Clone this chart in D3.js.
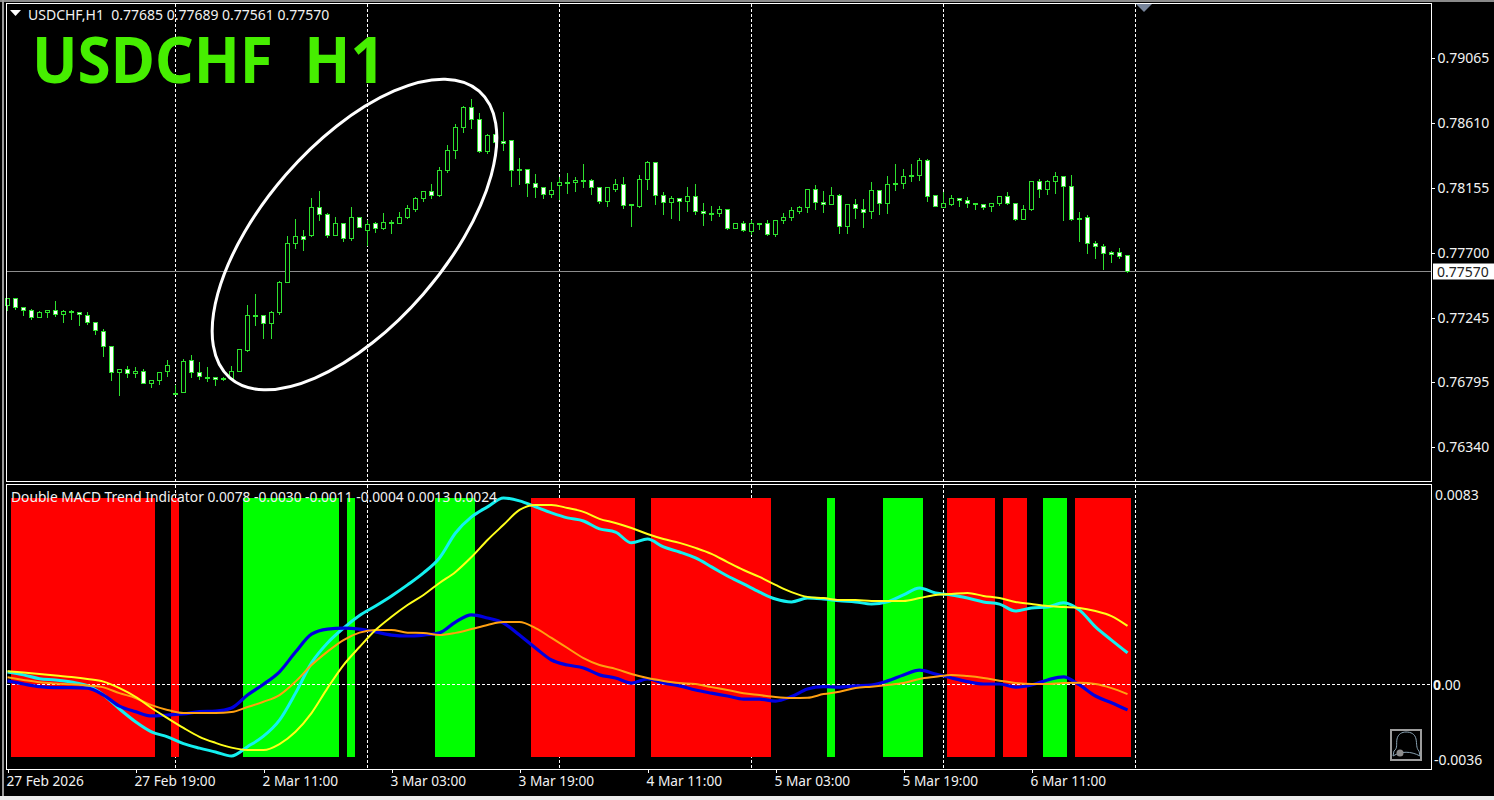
<!DOCTYPE html>
<html>
<head>
<meta charset="utf-8">
<title>USDCHF H1</title>
<script src="https://cdn.jsdelivr.net/npm/d3@7"></script>
<style>
  html, body { margin: 0; padding: 0; background: #000; overflow: hidden; }
  svg { display: block; }
  text { font-family: "Noto Sans", sans-serif; font-size: 14px; fill: #f2f2f2; white-space: pre; }
  .axis path { display: none; }
  .axis line { stroke: #fff; shape-rendering: crispEdges; }
  .axis text { font-family: "Noto Sans", sans-serif; font-size: 14px; fill: #f2f2f2; }
</style>
</head>
<body>
<svg id="chart" width="1494" height="800"></svg>
<script>
/* ---------- candles, one per H1 bar ---------- */
const opens = [
  0.77331,0.77383,0.77320,0.77299,0.77247,0.77282,0.77299,0.77268,0.77289,0.77285,
  0.77264,0.77215,0.77154,0.77047,0.76865,0.76886,0.76855,0.76872,0.76788,0.76809,
  0.76872,0.76720,0.76722,0.76949,0.76865,0.76832,0.76827,0.76820,0.76820,0.76872,
  0.77021,0.77261,0.77264,0.77208,0.77282,0.77495,0.77765,0.77817,0.77821,0.78020,
  0.77971,0.77821,0.77908,0.77800,0.77950,0.77859,0.77908,0.77873,0.77912,0.77908,
  0.77950,0.78006,0.78083,0.78132,0.78101,0.78276,0.78419,0.78580,0.78720,0.78636,
  0.78409,0.78531,0.78479,0.78486,0.78281,0.78286,0.78188,0.78160,0.78108,0.78171,
  0.78195,0.78192,0.78209,0.78209,0.78160,0.78059,0.78148,0.78181,0.78036,0.78022,
  0.78213,0.78335,0.78104,0.78052,0.78083,0.78059,0.78097,0.77992,0.77978,0.77975,
  0.78006,0.77870,0.77908,0.77849,0.77908,0.77908,0.77828,0.77924,0.77947,0.77992,
  0.78017,0.78146,0.78055,0.78038,0.78104,0.77884,0.78041,0.78006,0.77989,0.78139,
  0.78045,0.78185,0.78185,0.78241,0.78241,0.78349,0.78104,0.78017,0.78043,0.78083,
  0.78069,0.78045,0.78041,0.78022,0.78045,0.78097,0.78048,0.77933,0.78003,0.78204,
  0.78143,0.78197,0.78237,0.78167,0.77945,0.77950,0.77768,0.77747,0.77705,0.77705,
  0.77685];
const highs = [
  0.77383,0.77383,0.77329,0.77313,0.77301,0.77308,0.77371,0.77308,0.77308,0.77285,
  0.77292,0.77215,0.77175,0.77047,0.76893,0.76916,0.76907,0.76893,0.76809,0.76872,
  0.76956,0.76781,0.76963,0.76991,0.76942,0.76907,0.76827,0.76834,0.76914,0.77033,
  0.77343,0.77418,0.77273,0.77301,0.77511,0.77826,0.77943,0.77861,0.78085,0.78134,
  0.77985,0.77954,0.77912,0.78022,0.77954,0.77936,0.77919,0.77980,0.77936,0.77992,
  0.78043,0.78097,0.78132,0.78183,0.78309,0.78461,0.78608,0.78736,0.78783,0.78685,
  0.78538,0.78538,0.78694,0.78491,0.78372,0.78286,0.78258,0.78164,0.78197,0.78234,
  0.78267,0.78232,0.78330,0.78223,0.78169,0.78160,0.78223,0.78237,0.78043,0.78251,
  0.78349,0.78342,0.78132,0.78104,0.78083,0.78169,0.78188,0.78055,0.78034,0.78034,
  0.78006,0.77915,0.77929,0.77936,0.77915,0.77936,0.77929,0.77985,0.78027,0.78034,
  0.78153,0.78181,0.78134,0.78169,0.78118,0.78041,0.78078,0.78078,0.78204,0.78139,
  0.78244,0.78330,0.78288,0.78330,0.78372,0.78365,0.78111,0.78132,0.78113,0.78092,
  0.78099,0.78057,0.78041,0.78057,0.78104,0.78127,0.78048,0.78036,0.78211,0.78225,
  0.78216,0.78274,0.78237,0.78246,0.77994,0.77966,0.77791,0.77763,0.77714,0.77742,
  0.77689];
const lows = [
  0.77296,0.77308,0.77266,0.77231,0.77247,0.77247,0.77254,0.77212,0.77238,0.77191,
  0.77198,0.77133,0.76979,0.76811,0.76701,0.76827,0.76830,0.76788,0.76757,0.76778,
  0.76834,0.76711,0.76722,0.76827,0.76816,0.76802,0.76771,0.76806,0.76820,0.76872,
  0.77009,0.77196,0.77100,0.77100,0.77268,0.77495,0.77730,0.77721,0.77814,0.77931,
  0.77810,0.77821,0.77779,0.77786,0.77880,0.77751,0.77842,0.77866,0.77835,0.77908,
  0.77943,0.77992,0.78059,0.78078,0.78099,0.78262,0.78358,0.78542,0.78573,0.78405,
  0.78398,0.78468,0.78421,0.78164,0.78176,0.78099,0.78085,0.78078,0.78092,0.78071,
  0.78120,0.78127,0.78162,0.78113,0.78045,0.78022,0.78127,0.78010,0.77889,0.78015,
  0.78148,0.78036,0.77966,0.77945,0.77931,0.77992,0.77966,0.77896,0.77931,0.77959,
  0.77861,0.77870,0.77854,0.77831,0.77861,0.77826,0.77812,0.77908,0.77931,0.77978,
  0.77980,0.78008,0.77980,0.78038,0.77840,0.77840,0.77945,0.77882,0.77945,0.77966,
  0.77973,0.78134,0.78155,0.78197,0.78211,0.78064,0.78024,0.78017,0.78029,0.78022,
  0.78015,0.78008,0.78008,0.77994,0.78029,0.78036,0.77931,0.77933,0.78001,0.78092,
  0.78113,0.78120,0.77931,0.77931,0.77784,0.77700,0.77665,0.77588,0.77637,0.77658,
  0.77561];
const closes = [
  0.77383,0.77318,0.77296,0.77247,0.77285,0.77299,0.77268,0.77292,0.77289,0.77271,
  0.77212,0.77159,0.77047,0.76865,0.76886,0.76855,0.76872,0.76788,0.76809,0.76865,
  0.76914,0.76720,0.76942,0.76865,0.76834,0.76832,0.76816,0.76820,0.76872,0.77026,
  0.77264,0.77261,0.77208,0.77285,0.77495,0.77768,0.77817,0.77796,0.78020,0.77971,
  0.77821,0.77908,0.77803,0.77950,0.77880,0.77901,0.77873,0.77915,0.77912,0.77950,
  0.78013,0.78083,0.78132,0.78104,0.78279,0.78419,0.78580,0.78720,0.78636,0.78409,
  0.78524,0.78475,0.78468,0.78279,0.78281,0.78185,0.78157,0.78111,0.78134,0.78195,
  0.78195,0.78211,0.78209,0.78157,0.78059,0.78160,0.78181,0.78031,0.78036,0.78216,
  0.78335,0.78101,0.78052,0.78083,0.78059,0.78097,0.77989,0.77975,0.77978,0.78008,
  0.77870,0.77908,0.77856,0.77908,0.77908,0.77828,0.77929,0.77950,0.77999,0.78020,
  0.78146,0.78055,0.78041,0.78104,0.77884,0.78041,0.78010,0.77982,0.78139,0.78045,
  0.78181,0.78185,0.78237,0.78241,0.78349,0.78094,0.78024,0.78048,0.78083,0.78066,
  0.78048,0.78045,0.78017,0.78048,0.78097,0.78045,0.77933,0.78006,0.78204,0.78143,
  0.78204,0.78237,0.78164,0.77938,0.77945,0.77765,0.77744,0.77695,0.77688,0.77679,
  0.77570];

const lastPrice = 0.77570;
const priceTicks = [0.79065, 0.78610, 0.78155, 0.77700, 0.77245, 0.76795, 0.76340];

/* ---------- time axis: labels every 16 bars, day grid every 24 ---------- */
const timeTickBars = [0, 16, 32, 48, 64, 80, 96, 112, 128];
const timeTickLabels = ["27 Feb 2026", "27 Feb 19:00", "2 Mar 11:00", "3 Mar 03:00", "3 Mar 19:00",
                        "4 Mar 11:00", "5 Mar 03:00", "5 Mar 19:00", "6 Mar 11:00"];
const gridBars = [21, 45, 69, 93, 117, 141];

/* ---------- Double MACD panel, lines read every second bar ---------- */
const lineBars = d3.range(0, 141, 2);
const slowMacd = [
  0.00050,0.00038,0.00022,0.00017,0.00008,-0.00007,-0.00046,-0.00104,-0.00157,-0.00199,
  -0.00220,-0.00248,-0.00267,-0.00283,-0.00300,-0.00261,-0.00217,-0.00150,-0.00038,0.00088,
  0.00171,0.00233,0.00285,0.00325,0.00367,0.00413,0.00463,0.00525,0.00629,0.00696,
  0.00738,0.00775,0.00763,0.00738,0.00713,0.00692,0.00679,0.00646,0.00633,0.00588,
  0.00604,0.00571,0.00550,0.00525,0.00488,0.00450,0.00417,0.00383,0.00354,0.00342,
  0.00358,0.00354,0.00347,0.00342,0.00333,0.00342,0.00371,0.00400,0.00379,0.00371,
  0.00358,0.00342,0.00333,0.00304,0.00317,0.00321,0.00338,0.00308,0.00238,0.00183,
  0.00130];
const slowSignal = [
  0.00053,0.00048,0.00042,0.00035,0.00029,0.00021,0.00010,-0.00017,-0.00053,-0.00100,
  -0.00142,-0.00183,-0.00220,-0.00245,-0.00265,-0.00275,-0.00275,-0.00250,-0.00199,-0.00121,
  -0.00017,0.00079,0.00154,0.00225,0.00280,0.00329,0.00371,0.00421,0.00467,0.00529,
  0.00600,0.00663,0.00725,0.00746,0.00746,0.00733,0.00717,0.00688,0.00671,0.00650,
  0.00625,0.00604,0.00588,0.00567,0.00542,0.00508,0.00475,0.00446,0.00413,0.00383,
  0.00363,0.00358,0.00350,0.00350,0.00346,0.00346,0.00346,0.00358,0.00371,0.00375,
  0.00379,0.00367,0.00358,0.00342,0.00333,0.00325,0.00321,0.00317,0.00304,0.00283,
  0.00242];
const fastMacd = [
  0.00013,0.00000,-0.00011,-0.00015,-0.00015,-0.00017,-0.00046,-0.00092,-0.00115,-0.00133,
  -0.00129,-0.00125,-0.00115,-0.00113,-0.00100,-0.00046,-0.00001,0.00051,0.00133,0.00208,
  0.00229,0.00233,0.00229,0.00217,0.00204,0.00200,0.00204,0.00213,0.00258,0.00288,
  0.00275,0.00254,0.00204,0.00150,0.00100,0.00079,0.00067,0.00038,0.00025,0.00004,
  0.00021,0.00004,-0.00008,-0.00025,-0.00038,-0.00050,-0.00063,-0.00063,-0.00071,-0.00052,
  -0.00021,-0.00011,-0.00013,-0.00008,-0.00004,0.00013,0.00038,0.00058,0.00042,0.00025,
  0.00010,0.00000,0.00000,-0.00013,-0.00004,0.00017,0.00030,-0.00004,-0.00050,-0.00078,
  -0.00108];
const fastSignal = [
  0.00028,0.00017,0.00007,0.00002,-0.00001,-0.00006,-0.00014,-0.00038,-0.00058,-0.00088,
  -0.00108,-0.00121,-0.00121,-0.00121,-0.00117,-0.00096,-0.00074,-0.00046,0.00010,0.00079,
  0.00135,0.00183,0.00214,0.00225,0.00225,0.00214,0.00213,0.00204,0.00213,0.00229,
  0.00246,0.00258,0.00258,0.00233,0.00192,0.00150,0.00108,0.00079,0.00063,0.00042,
  0.00025,0.00013,0.00004,0.00000,-0.00013,-0.00025,-0.00038,-0.00046,-0.00054,-0.00058,
  -0.00057,-0.00042,-0.00032,-0.00017,-0.00011,-0.00004,0.00004,0.00021,0.00030,0.00038,
  0.00033,0.00025,0.00014,0.00004,0.00000,0.00000,0.00004,0.00005,0.00000,-0.00017,
  -0.00042];

// trend blocks: first bar, last bar, side
const trendStart = [1, 21, 30, 43, 54, 66, 81, 103, 110, 118, 125, 130, 134];
const trendEnd   = [18, 21, 41, 43, 58, 78, 95, 103, 114, 123, 127, 132, 140];
const trendSide  = ["dn", "dn", "up", "up", "up", "dn", "dn", "up", "up", "dn", "dn", "up", "dn"];
const trendTop = 0.00775, trendBottom = -0.00305;

const legendTop = "USDCHF,H1  0.77685 0.77689 0.77561 0.77570";
const legendMacd = "Double MACD Trend Indicator 0.0078 -0.0030 -0.0011 -0.0004 0.0013 0.0024";

/* ---------- layout + scales ---------- */
const svg = d3.select("#chart");
const plotL = 6.5, plotR = 1431.5;
const mainTop = 3.5, mainBot = 481.5, subTop = 484.5, subBot = 769.5;

const x = d3.scaleLinear().domain([0, 140]).range([7.5, 1127.5]);
const halfBar = (x(1) - x(0)) / 2;
const yPrice = d3.scaleLinear().domain([0.77700, 0.79065]).range([253, 58]);
const yMacd = d3.scaleLinear().domain([-0.00354, 0.00829]).range([769, 485]);
const snap = v => Math.round(v - 0.5) + 0.5;

// window edges around the chart
svg.append("rect").attr("x", 0).attr("y", 0).attr("width", 1494).attr("height", 2).attr("fill", "#8a8a8a");
svg.append("rect").attr("x", 2).attr("y", 0).attr("width", 2).attr("height", 797).attr("fill", "#9a9a9a");
svg.append("rect").attr("x", 0).attr("y", 796).attr("width", 1494).attr("height", 4).attr("fill", "#ececec");

/* ---------- grid sits under everything ---------- */
const grid = svg.append("g").attr("stroke", "#fff").attr("stroke-dasharray", "3,2").attr("shape-rendering", "crispEdges");
grid.selectAll(".g1").data(gridBars).join("line")
  .attr("x1", d => x(d)).attr("x2", d => x(d)).attr("y1", mainTop).attr("y2", mainBot);
grid.selectAll(".g2").data(gridBars).join("line")
  .attr("x1", d => x(d)).attr("x2", d => x(d)).attr("y1", subTop).attr("y2", subBot);

/* ---------- price panel ---------- */
svg.append("line").attr("x1", plotL).attr("x2", plotR)
  .attr("y1", snap(yPrice(lastPrice))).attr("y2", snap(yPrice(lastPrice)))
  .attr("stroke", "#8c8c8c").attr("shape-rendering", "crispEdges");

const candles = svg.append("g").attr("shape-rendering", "crispEdges");
const bars = d3.range(opens.length);
candles.selectAll(".wick").data(bars).join("line").attr("class", "wick")
  .attr("x1", i => x(i)).attr("x2", i => x(i))
  .attr("y1", i => snap(yPrice(highs[i]))).attr("y2", i => snap(yPrice(lows[i])))
  .attr("stroke", "#2ee02e");
candles.selectAll(".body").data(bars.filter(i => opens[i] !== closes[i])).join("rect").attr("class", "body")
  .attr("x", i => x(i) - 2).attr("width", 4)
  .attr("y", i => snap(yPrice(Math.max(opens[i], closes[i]))))
  .attr("height", i => Math.max(1, snap(yPrice(Math.min(opens[i], closes[i]))) - snap(yPrice(Math.max(opens[i], closes[i])))))
  .attr("fill", i => closes[i] > opens[i] ? "#000" : "#fff")
  .attr("stroke", "#2ee02e");
candles.selectAll(".doji").data(bars.filter(i => opens[i] === closes[i])).join("rect").attr("class", "doji")
  .attr("x", i => x(i) - 2.5).attr("width", 5)
  .attr("y", i => snap(yPrice(opens[i])) - 1).attr("height", 2)
  .attr("fill", "#2fe62f");

/* ---------- MACD panel ---------- */
svg.append("g").selectAll("rect").data(trendStart).join("rect")
  .attr("x", d => Math.floor(x(d) - halfBar))
  .attr("width", (d, k) => x(trendEnd[k]) - x(d) + 2 * halfBar)
  .attr("y", yMacd(trendTop)).attr("height", yMacd(trendBottom) - yMacd(trendTop))
  .attr("fill", (d, k) => trendSide[k] === "up" ? "#00ff00" : "#ff0000")
  .attr("shape-rendering", "crispEdges");

svg.append("line").attr("x1", plotL).attr("x2", plotR)
  .attr("y1", snap(yMacd(0))).attr("y2", snap(yMacd(0)))
  .attr("stroke", "#fff").attr("stroke-dasharray", "3,2").attr("shape-rendering", "crispEdges");

const macdLine = d3.line().x((d, k) => x(lineBars[k])).y(d => yMacd(d)).curve(d3.curveMonotoneX);
[[slowMacd, "#14f0f0", 3], [fastMacd, "#0000e0", 3.2], [fastSignal, "#ffa010", 2], [slowSignal, "#ffff19", 2]]
  .forEach(([values, color, width]) => {
    svg.append("path").attr("d", macdLine(values)).attr("fill", "none")
      .attr("stroke", color).attr("stroke-width", width).attr("stroke-linejoin", "round");
  });

/* ---------- frames + axes ---------- */
const frame = svg.append("g").attr("stroke", "#fff").attr("fill", "none").attr("shape-rendering", "crispEdges");
frame.append("rect").attr("x", plotL).attr("y", mainTop).attr("width", plotR - plotL).attr("height", mainBot - mainTop);
frame.append("rect").attr("x", plotL).attr("y", subTop).attr("width", plotR - plotL).attr("height", subBot - subTop);

const priceAxis = svg.append("g").attr("class", "axis")
  .attr("transform", `translate(${plotR},0)`)
  .call(d3.axisRight(yPrice).tickValues(priceTicks).tickSize(3).tickPadding(3).tickFormat(d3.format(".5f")));

const timeAxis = svg.append("g").attr("class", "axis")
  .attr("transform", `translate(0,${subBot})`)
  .call(d3.axisBottom(x).tickValues(timeTickBars).tickSize(3).tickPadding(4)
    .tickFormat((d, k) => timeTickLabels[k]));
timeAxis.selectAll("text").attr("text-anchor", "start").attr("dx", -1.5).style("font-size", "13.7px");

// current price flag
svg.append("rect").attr("x", 1433).attr("y", 263.5).attr("width", 61).attr("height", 16).attr("fill", "#fff");
svg.append("text").attr("x", 1437).attr("y", 272).attr("dy", "0.33em").style("fill", "#222").text(d3.format(".5f")(lastPrice));

// MACD scale labels sit just inside the panel, not on their values
svg.append("text").attr("x", 1435).attr("y", 495).attr("dy", "0.33em").text("0.0083");
svg.append("text").attr("x", 1434).attr("y", 760).attr("dy", "0.33em").text("-0.0036");
const zeroLabel = svg.append("text").attr("x", 1433).attr("y", 685).attr("dy", "0.33em");
zeroLabel.append("tspan").style("font-weight", "700").text("0");
zeroLabel.append("tspan").text(".00");

/* ---------- annotations ---------- */
svg.append("path").attr("d", "M10,10H21L15.5,16Z").attr("fill", "#fff");
svg.append("text").attr("x", 28).attr("y", 15).attr("dy", "0.33em").text(legendTop);
svg.append("text").attr("x", 11).attr("y", 497).attr("dy", "0.33em")
  .attr("textLength", 486).attr("lengthAdjust", "spacingAndGlyphs").text(legendMacd);

svg.append("text").attr("x", 32).attr("y", 83)
  .attr("textLength", 353).attr("lengthAdjust", "spacingAndGlyphs")
  .style("font-size", "64px").style("font-weight", "700").style("fill", "#46ee00")
  .text("USDCHF  H1");

svg.append("ellipse").attr("rx", 190).attr("ry", 91)
  .attr("transform", "translate(354.5,234.5) rotate(-49)")
  .attr("fill", "none").attr("stroke", "#fff").attr("stroke-width", 3);

svg.append("path").attr("d", "M1136,4H1152L1144,12Z").attr("fill", "#77849a");

// alert bell box
const bell = svg.append("g").attr("transform", "translate(1391,730)");
bell.append("rect").attr("width", 30).attr("height", 30).attr("fill", "none").attr("stroke", "#9c9c9c").attr("stroke-width", 2);
bell.append("path").attr("d", "M3,21C7,18 5,14 6,9C7,4 11,2 15,2C20,2 24,4 25,9C26,14 25,18 28,21L29,26C20,21 10,21 2,26Z")
  .attr("fill", "none").attr("stroke", "#8aa3b3").attr("stroke-width", 1);
bell.append("circle").attr("cx", 9).attr("cy", 23).attr("r", 3.5).attr("fill", "#8c8c8c");
</script>
</body>
</html>
